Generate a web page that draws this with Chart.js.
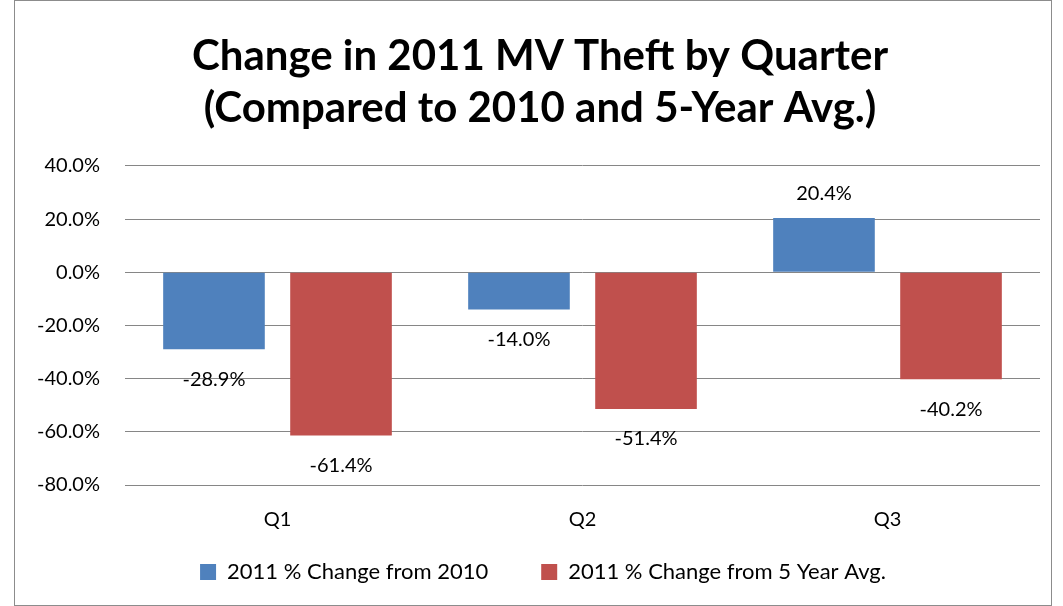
<!DOCTYPE html>
<html lang="en">

<head>
    <meta charset="UTF-8">
    <title>Change in 2011 MV Theft by Quarter</title>
    <script src="https://cdn.jsdelivr.net/npm/chart.js"></script>
    <style>
        html, body { margin: 0; padding: 0; background: #fff; }
        .wrap { position: relative; width: 1063px; height: 606px; }
        .frame { position: absolute; left: 14px; top: 0; width: 1036px; height: 604px; border: 1px solid #8c8c8c; pointer-events: none; }
    </style>
</head>

<body>
    <div class="wrap">
        <canvas id="theftChart" width="1063" height="606"></canvas>
        <div class="frame"></div>
    </div>

    <script>
        // chart data
        const quarters = ['Q1', 'Q2', 'Q3'];
        const changeFrom2010 = [-28.9, -14.0, 20.4];
        const changeFrom5YrAvg = [-61.4, -51.4, -40.2];
        const seriesNames = ['2011 % Change from 2010', '2011 % Change from 5 Year Avg.'];
        const yTicks = [-80, -60, -40, -20, 0, 20, 40];

        const FONT = 'Lato, "Open Sans", sans-serif';

        // value labels under negative bars / above positive ones
        const barLabels = {
            id: 'barLabels',
            afterDatasetsDraw(chart) {
                const ctx = chart.ctx;
                ctx.save();
                ctx.font = '20px ' + FONT;
                ctx.fillStyle = '#000';
                ctx.textAlign = 'center';
                ctx.textBaseline = 'middle';
                chart.data.datasets.forEach((ds, i) => {
                    chart.getDatasetMeta(i).data.forEach((bar, j) => {
                        const v = ds.data[j];
                        const y = v < 0 ? bar.y + 30 : bar.y - 25;
                        ctx.fillText(v.toFixed(1) + '%', bar.x, y);
                    });
                });
                ctx.restore();
            }
        };

        // original centres title/legend a bit right of the canvas middle,
        // and the legend has wide item gaps but sits close under the axis
        const boxNudge = {
            id: 'boxNudge',
            afterLayout(chart) {
                const lg = chart.legend;
                lg.top -= 47;
                lg.left += 16; lg.right += 16;
                const t = chart.titleBlock;
                t.left += 13; t.right += 13;
            }
        };

        new Chart(document.getElementById('theftChart'), {
            type: 'bar',
            data: {
                labels: quarters,
                datasets: [{
                    label: seriesNames[0],
                    data: changeFrom2010,
                    backgroundColor: '#4F81BD',
                    categoryPercentage: 0.833,
                    barPercentage: 0.80
                }, {
                    label: seriesNames[1],
                    data: changeFrom5YrAvg,
                    backgroundColor: '#C0504D',
                    categoryPercentage: 0.833,
                    barPercentage: 0.80
                }]
            },
            options: {
                responsive: false,
                animation: false,
                layout: { padding: { left: 14, right: 23, top: 0, bottom: 9 } },
                plugins: {
                    title: {
                        display: true,
                        text: ['Change in 2011 MV Theft by Quarter', '(Compared to 2010 and 5-Year Avg.)'],
                        color: '#000',
                        font: { family: FONT, size: 42, weight: 'bold', lineHeight: 1.238 },
                        padding: { top: 30, bottom: 32 }
                    },
                    legend: {
                        position: 'bottom',
                        maxHeight: 42,
                        labels: {
                            color: '#000',
                            font: { family: FONT, size: 22 },
                            boxWidth: 16,
                            boxHeight: 16,
                            padding: 53
                        }
                    },
                    tooltip: { enabled: false }
                },
                scales: {
                    x: {
                        grid: { display: false, drawTicks: false },
                        border: { display: false },
                        ticks: { color: '#000', font: { family: FONT, size: 20 }, padding: 23 }
                    },
                    y: {
                        min: -80,
                        max: 40,
                        afterFit(scale) { scale.width = 111; },
                        afterBuildTicks(scale) { scale.ticks = yTicks.map(v => ({ value: v })); },
                        grid: { color: '#868686', drawTicks: false },
                        border: { display: false },
                        ticks: {
                            color: '#000',
                            font: { family: FONT, size: 20 },
                            padding: 25,
                            callback: v => v.toFixed(1) + '%'
                        }
                    }
                }
            },
            plugins: [barLabels, boxNudge]
        });
    </script>
</body>

</html>
